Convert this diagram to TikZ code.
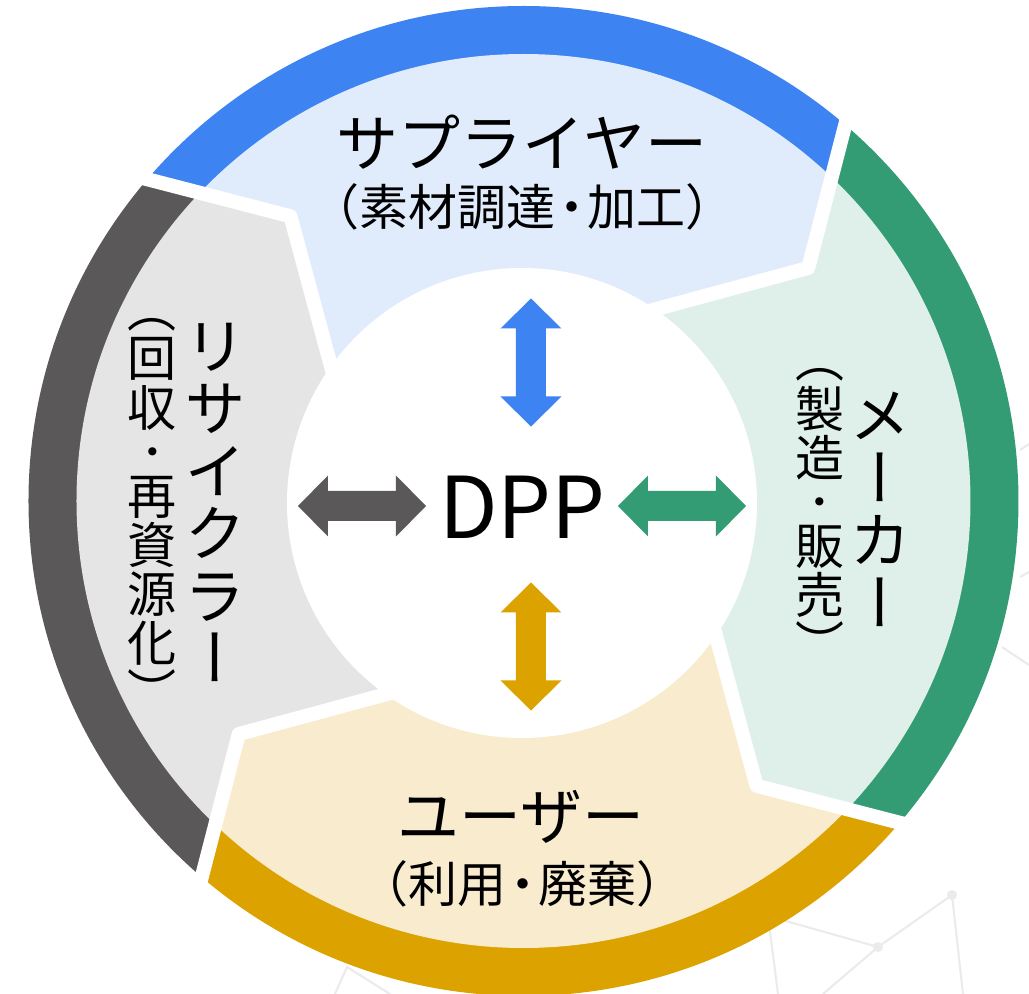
\documentclass[tikz,border=0pt]{standalone}
\usepackage{fontspec}
\setmainfont{Noto Sans CJK JP}
\newfontfamily\vjp[RawFeature=+vert]{Noto Sans CJK JP}
\usetikzlibrary{calc}
\newcommand\vtfont{\vjp\fontsize{35.3}{35.6}\selectfont\lineskiplimit-100pt\relax}
\newcommand\vsfont{\vjp\fontsize{27.9}{27.9}\selectfont\lineskiplimit-100pt\relax}
\newcommand\vstrut{\rule[-0.12em]{0pt}{1em}}
\newcommand\hdot{\kern-0.17em・\kern-0.17em}
\newcommand\vdot{{\fontsize{22}{22}\selectfont ・}}
\definecolor{bDark}{HTML}{3D83F2}
\definecolor{bLight}{HTML}{E0EBFC}
\definecolor{gDark}{HTML}{349C74}
\definecolor{gLight}{HTML}{DFF0EA}
\definecolor{yDark}{HTML}{DCA200}
\definecolor{yLight}{HTML}{F8EBCE}
\definecolor{kDark}{HTML}{5A5859}
\definecolor{kLight}{HTML}{E5E5E5}
\definecolor{netc}{HTML}{EBEBEB}
\tikzset{
  title/.style={inner sep=0pt, font=\fontsize{35.3}{36}\selectfont},
  subtitle/.style={inner sep=0pt, font=\fontsize{27.9}{28}\selectfont},
  vtitle/.style={inner sep=0pt, align=center, font=\vtfont},
  vsub/.style={inner sep=0pt, align=center, font=\vsfont},
  sepline/.style={white, line width=8pt, line join=round},
  net/.style={netc, line width=1.2pt},
  netdot/.style={netc},
  dblarrow/.pic={\fill (-64,0) -- (-34,30.5) -- (-34,15) -- (34,15) -- (34,30.5) -- (64,0) -- (34,-30.5) -- (34,-15) -- (-34,-15) -- (-34,-30.5) -- cycle;}
}
\begin{document}
\begin{tikzpicture}[x=0.02cm, y=0.02cm]
\useasboundingbox (-523.5,-493) rectangle (505.5,501);
% faint background network
\coordinate (nA) at (428.5,-394);
\coordinate (nB) at (354.5,-446);
\coordinate (nD) at (244.5,-415);
\coordinate (nH) at (-176.5,-466);
\draw[net] (nA) -- (nB);
\draw[net] (nA) -- (439.5,-493);
\draw[net] (nB) -- (299.5,-493);
\draw[net] (nB) -- (nD) -- (254.5,-493);
\draw[net] (478.5,-146) -- (505.5,-164);
\draw[net] (496.5,51) -- (505.5,57);
\draw[net] (496.5,-76) -- (505.5,-71);
\draw[net] (-188.5,-493) -- (nH) -- (-133.5,-493);
\fill[netdot] (nA) circle (5);
\fill[netdot] (nB) circle (5);
% boundaries
\foreach \k in {0,1,2,3}{
  \pgfmathsetmacro\ph{49.4-90*\k}
  \coordinate (c\k) at (\ph-10.1:368);
  \coordinate (o\k) at (\ph:494);
  \coordinate (i\k) at (\ph+5.2:237);
}
\foreach \k in {0,1,2,3}{
  \coordinate (oe\k) at ($(c\k)!1.3!(o\k)$);
  \coordinate (of\k) at ($(c\k)!3!(o\k)$);
  \coordinate (ie\k) at ($(c\k)!1.5!(i\k)$);
}
% segments
\foreach \a/\b/\m/\dk/\lt in {3/0/94.4/bDark/bLight, 0/1/4.4/gDark/gLight, 1/2/-85.6/yDark/yLight, 2/3/-175.6/kDark/kLight}{
  \begin{scope}
    \clip (0,0) -- (ie\a) -- (c\a) -- (of\a) -- (\m:1200) -- (of\b) -- (c\b) -- (ie\b) -- cycle;
    \fill[\dk] (0,0) circle (495);
    \fill[\lt] (0,0) circle (447);
  \end{scope}
}
\foreach \k in {0,1,2,3}{
  \draw[sepline] (ie\k) -- (c\k) -- (oe\k);
}
\fill[white] (-1.5,-2) circle (235);
% arrows
\pic[fill=bDark, rotate=90] (arrB) at (7.5,138.5) {dblarrow};
\pic[fill=yDark, rotate=90] (arrY) at (7.5,-145.5) {dblarrow};
\pic[fill=kDark] (arrK) at (-161.5,-5) {dblarrow};
\pic[fill=gDark] (arrG) at (158.5,-5) {dblarrow};
% texts
\node[inner sep=0pt, font=\fontsize{48.5}{50}\selectfont] (dpp) at (-1,-6.5) {DPP};
\node[title] (sup) at (-1.5,359) {サプライヤー};
\node[subtitle] (sup2) at (-1,294) {（素材調達\hdot 加工）};
\node[title] (usr) at (-2.5,-316) {ユーザー};
\node[subtitle] (usr2) at (-1,-383) {（利用\hdot 廃棄）};
\node[vtitle] (mk) at (357.5,-8) {\vstrut メ\\ー\\カ\\\vstrut ー};
\node[vsub] (mk2) at (296.5,-0.5) {\vstrut ︵\\製\\造\\[-5pt]\vdot\\[-0.6pt]販\\売\\\vstrut ︶};
\node[vtitle] (rc) at (-307.5,-1) {\vstrut リ\\サ\\イ\\ク\\ラ\\\vstrut ー};
\node[vsub] (rc2) at (-371,0.5) {\vstrut ︵\\回\\収\\[-5pt]\vdot\\[-0.6pt]再\\資\\源\\化\\\vstrut ︶};
\end{tikzpicture}
\end{document}
